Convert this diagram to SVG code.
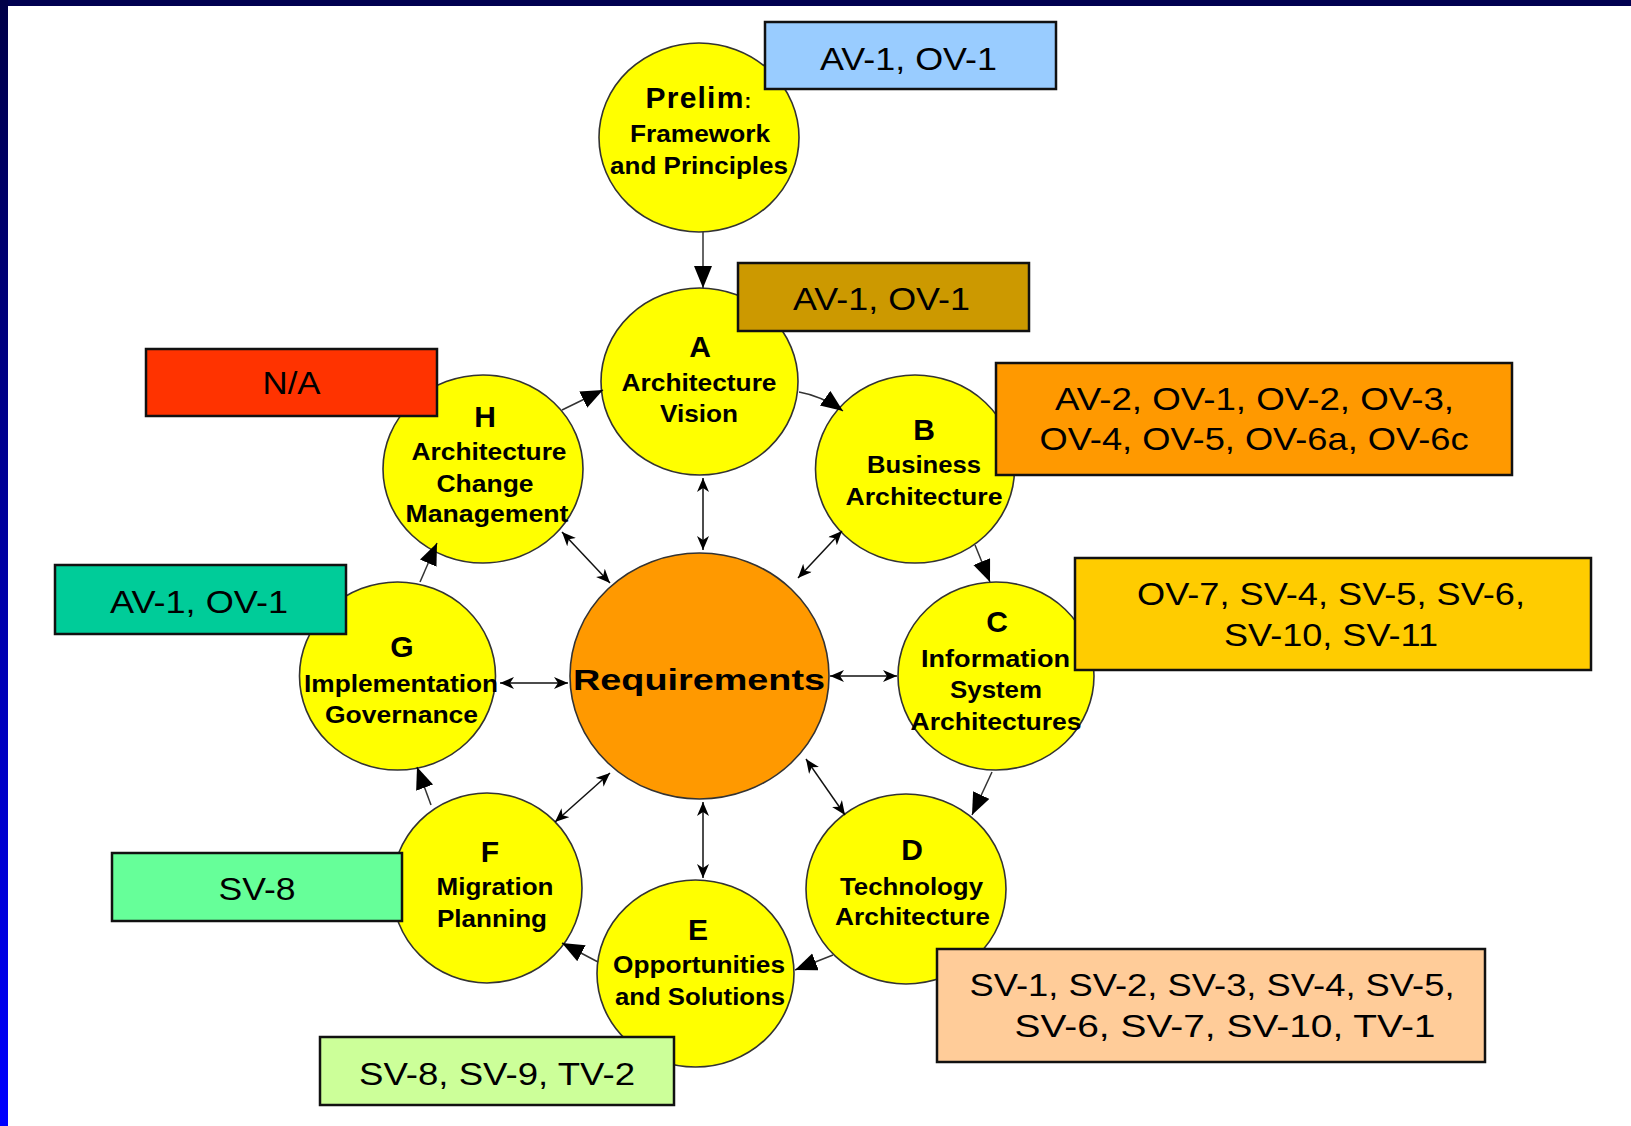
<svg xmlns="http://www.w3.org/2000/svg" width="1631" height="1126" viewBox="0 0 1631 1126">
  <style>
    .phase { fill: #FFFF00; stroke: #333; stroke-width: 1.6; }
    .req { fill: #FF9900; stroke: #333; stroke-width: 1.6; }
    .ptxt { font-family: "Liberation Sans", Arial, sans-serif; font-weight: bold; font-size: 23px; fill: #000; text-anchor: middle; }
    .plet { font-family: "Liberation Sans", Arial, sans-serif; font-weight: bold; font-size: 30px; fill: #000; text-anchor: middle; }
    .box { stroke: #111; stroke-width: 2.5; }
    .lbl { font-family: "Liberation Sans", Arial, sans-serif; font-size: 32px; fill: #000; text-anchor: middle; }
    .flow { fill: none; stroke: #333; stroke-width: 1.5; marker-end: url(#big); }
    .link { fill: none; stroke: #111; stroke-width: 1.5; marker-start: url(#small); marker-end: url(#small); }
  </style>
  <defs>
    <linearGradient id="sidebar" x1="0" y1="0" x2="0" y2="1">
      <stop offset="0" stop-color="#000048"/>
      <stop offset="1" stop-color="#0000FF"/>
    </linearGradient>
    <marker id="big" markerUnits="userSpaceOnUse" markerWidth="24" markerHeight="20" refX="22" refY="9" orient="auto">
      <path d="M0,0 L22,9 L0,18 z" fill="#000"/>
    </marker>
    <marker id="small" markerUnits="userSpaceOnUse" markerWidth="15" markerHeight="13" refX="14" refY="6" orient="auto-start-reverse">
      <path d="M0,0 L14,6 L0,12 L4,6 z" fill="#000"/>
    </marker>
  </defs>

  <!-- frame -->
  <rect x="0" y="0" width="1631" height="1126" fill="#FFFFFF"/>
  <rect x="0" y="0" width="1631" height="6" fill="#000050"/>
  <rect x="0" y="0" width="8" height="1126" fill="url(#sidebar)"/>

  <!-- phase circles -->
  <g id="node-prelim">
    <ellipse class="phase" cx="699" cy="137.5" rx="100" ry="94.5"/>
    <text class="plet" x="699" y="108" font-size="33" letter-spacing="1.2">Prelim<tspan font-size="20">:</tspan></text>
    <text class="ptxt" x="700" y="142" textLength="140" lengthAdjust="spacingAndGlyphs">Framework</text>
    <text class="ptxt" x="699" y="174" textLength="178" lengthAdjust="spacingAndGlyphs">and Principles</text>
  </g>
  <g id="node-a">
    <ellipse class="phase" cx="699.5" cy="381.5" rx="98.5" ry="93.5"/>
    <text class="plet" x="700" y="357">A</text>
    <text class="ptxt" x="699" y="391" textLength="155" lengthAdjust="spacingAndGlyphs">Architecture</text>
    <text class="ptxt" x="699" y="422" textLength="78" lengthAdjust="spacingAndGlyphs">Vision</text>
  </g>
  <g id="node-b">
    <ellipse class="phase" cx="915" cy="469" rx="99.5" ry="94"/>
    <text class="plet" x="924" y="440">B</text>
    <text class="ptxt" x="924" y="473" textLength="114" lengthAdjust="spacingAndGlyphs">Business</text>
    <text class="ptxt" x="924" y="505" textLength="157" lengthAdjust="spacingAndGlyphs">Architecture</text>
  </g>
  <g id="node-c">
    <ellipse class="phase" cx="996" cy="676" rx="98" ry="94"/>
    <text class="plet" x="997" y="632">C</text>
    <text class="ptxt" x="995.5" y="667" textLength="149" lengthAdjust="spacingAndGlyphs">Information</text>
    <text class="ptxt" x="996" y="698" textLength="92" lengthAdjust="spacingAndGlyphs">System</text>
    <text class="ptxt" x="996" y="730" textLength="171" lengthAdjust="spacingAndGlyphs">Architectures</text>
  </g>
  <g id="node-d">
    <ellipse class="phase" cx="906" cy="889" rx="100" ry="95"/>
    <text class="plet" x="912" y="860">D</text>
    <text class="ptxt" x="911.5" y="895" textLength="143" lengthAdjust="spacingAndGlyphs">Technology</text>
    <text class="ptxt" x="912.5" y="925" textLength="155" lengthAdjust="spacingAndGlyphs">Architecture</text>
  </g>
  <g id="node-e">
    <ellipse class="phase" cx="695.5" cy="973.5" rx="98.5" ry="93.5"/>
    <text class="plet" x="698" y="940">E</text>
    <text class="ptxt" x="699" y="973" textLength="172" lengthAdjust="spacingAndGlyphs">Opportunities</text>
    <text class="ptxt" x="700" y="1005" textLength="170" lengthAdjust="spacingAndGlyphs">and Solutions</text>
  </g>
  <g id="node-f">
    <ellipse class="phase" cx="487" cy="888" rx="95" ry="95"/>
    <text class="plet" x="490" y="862">F</text>
    <text class="ptxt" x="495" y="895" textLength="117" lengthAdjust="spacingAndGlyphs">Migration</text>
    <text class="ptxt" x="492" y="927" textLength="110" lengthAdjust="spacingAndGlyphs">Planning</text>
  </g>
  <g id="node-g">
    <ellipse class="phase" cx="397.5" cy="676" rx="98" ry="94"/>
    <text class="plet" x="402" y="657">G</text>
    <text class="ptxt" x="401" y="692" textLength="194" lengthAdjust="spacingAndGlyphs">Implementation</text>
    <text class="ptxt" x="401.5" y="723" textLength="153" lengthAdjust="spacingAndGlyphs">Governance</text>
  </g>
  <g id="node-h">
    <ellipse class="phase" cx="483" cy="469" rx="100" ry="94"/>
    <text class="plet" x="485" y="427">H</text>
    <text class="ptxt" x="489" y="460" textLength="155" lengthAdjust="spacingAndGlyphs">Architecture</text>
    <text class="ptxt" x="485" y="492" textLength="97" lengthAdjust="spacingAndGlyphs">Change</text>
    <text class="ptxt" x="487" y="522" textLength="163" lengthAdjust="spacingAndGlyphs">Management</text>
  </g>
  <g id="node-requirements">
    <ellipse class="req" cx="699.5" cy="676" rx="129.5" ry="123"/>
    <text class="plet" x="699" y="690" font-size="36" textLength="252" lengthAdjust="spacingAndGlyphs">Requirements</text>
  </g>

  <!-- connectors -->
  <g id="connectors">
    <!-- phase cycle -->
    <path class="flow" d="M703,232 L703,288"/>
    <path class="flow" d="M799,392 Q822,396 843,411"/>
    <path class="flow" d="M975,545 L990,582"/>
    <path class="flow" d="M992,772 L972,815"/>
    <path class="flow" d="M833,955 L795,970"/>
    <path class="flow" d="M598,962 L562,943"/>
    <path class="flow" d="M431,805 L417,767"/>
    <path class="flow" d="M420,582 L437,543"/>
    <path class="flow" d="M562,410 L603,390"/>
    <!-- links to requirements -->
    <path class="link" d="M703,478 L703,550"/>
    <path class="link" d="M842,531 L798,578"/>
    <path class="link" d="M897,676 L830,676"/>
    <path class="link" d="M845,815 L806,759"/>
    <path class="link" d="M703,878 L703,802"/>
    <path class="link" d="M555,822 L610,773"/>
    <path class="link" d="M500,683 L568,683"/>
    <path class="link" d="M562,532 L610,583"/>
  </g>

  <!-- product labels -->
  <g id="label-prelim">
    <rect class="box" x="765" y="22" width="291" height="67" fill="#99CCFF"/>
    <text class="lbl" x="908.5" y="70" textLength="177" lengthAdjust="spacingAndGlyphs">AV-1, OV-1</text>
  </g>
  <g id="label-a">
    <rect class="box" x="738" y="263" width="291" height="68" fill="#CC9900"/>
    <text class="lbl" x="881.5" y="310" textLength="177" lengthAdjust="spacingAndGlyphs">AV-1, OV-1</text>
  </g>
  <g id="label-h">
    <rect class="box" x="146" y="349" width="291" height="67" fill="#FF3300"/>
    <text class="lbl" x="291.5" y="394" textLength="58" lengthAdjust="spacingAndGlyphs">N/A</text>
  </g>
  <g id="label-b">
    <rect class="box" x="996" y="363" width="516" height="112" fill="#FF9900"/>
    <text class="lbl" x="1254.5" y="410" textLength="399" lengthAdjust="spacingAndGlyphs">AV-2, OV-1, OV-2, OV-3,</text>
    <text class="lbl" x="1254" y="450" textLength="429" lengthAdjust="spacingAndGlyphs">OV-4, OV-5, OV-6a, OV-6c</text>
  </g>
  <g id="label-c">
    <rect class="box" x="1075" y="558" width="516" height="112" fill="#FFCC00"/>
    <text class="lbl" x="1331" y="605" textLength="388" lengthAdjust="spacingAndGlyphs">OV-7, SV-4, SV-5, SV-6,</text>
    <text class="lbl" x="1331" y="646" textLength="214" lengthAdjust="spacingAndGlyphs">SV-10, SV-11</text>
  </g>
  <g id="label-g">
    <rect class="box" x="55" y="565" width="291" height="69" fill="#00CC99"/>
    <text class="lbl" x="199" y="613" textLength="178" lengthAdjust="spacingAndGlyphs">AV-1, OV-1</text>
  </g>
  <g id="label-f">
    <rect class="box" x="112" y="853" width="290" height="68" fill="#66FF99"/>
    <text class="lbl" x="257" y="900" textLength="77" lengthAdjust="spacingAndGlyphs">SV-8</text>
  </g>
  <g id="label-d">
    <rect class="box" x="937" y="949" width="548" height="113" fill="#FFCC99"/>
    <text class="lbl" x="1212" y="996" textLength="485" lengthAdjust="spacingAndGlyphs">SV-1, SV-2, SV-3, SV-4, SV-5,</text>
    <text class="lbl" x="1225" y="1037" textLength="421" lengthAdjust="spacingAndGlyphs">SV-6, SV-7, SV-10, TV-1</text>
  </g>
  <g id="label-e">
    <rect class="box" x="320" y="1037" width="354" height="68" fill="#CCFF99"/>
    <text class="lbl" x="497" y="1085" textLength="276" lengthAdjust="spacingAndGlyphs">SV-8, SV-9, TV-2</text>
  </g>
</svg>
